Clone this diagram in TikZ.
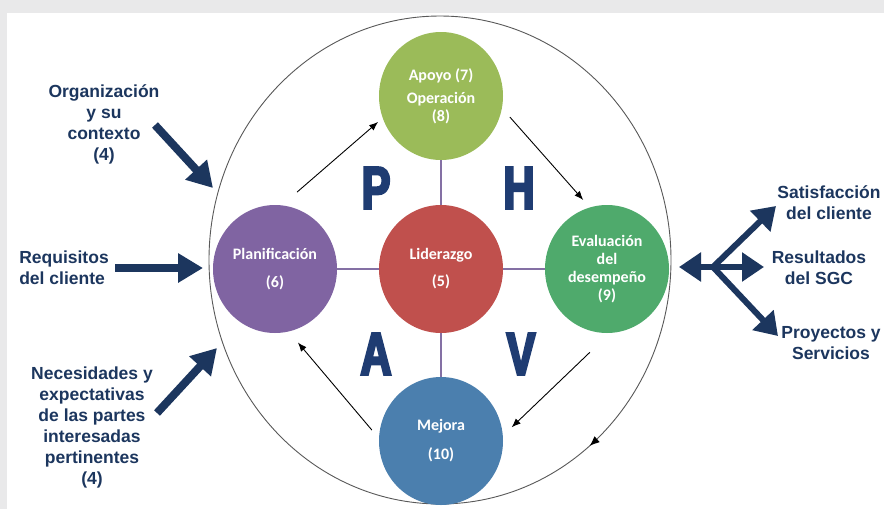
\documentclass[tikz,border=0pt]{standalone}
\usepackage{fontspec}
\setmainfont{Liberation Sans}
\newfontfamily\circfont{Carlito}
\newfontfamily\phavfont[FakeStretch=0.72,FakeBold=4]{Liberation Sans Bold}
\usepackage{xcolor}
\usepackage{tikz}
\usetikzlibrary{shapes,arrows,positioning,calc,decorations.markings,arrows.meta}

\definecolor{navy}{HTML}{1C365E}
\definecolor{phav}{HTML}{1F3C72}
\definecolor{apoyocol}{HTML}{9BBB59}
\definecolor{lidercol}{HTML}{C0504D}
\definecolor{plancol}{HTML}{8064A2}
\definecolor{evalcol}{HTML}{4FAA6C}
\definecolor{mejoracol}{HTML}{4B7FAE}
\definecolor{crosscol}{HTML}{8470A4}
\definecolor{bggray}{HTML}{E9E9EA}

\tikzset{
    stage/.style={ellipse, minimum width=124pt, minimum height=128pt, inner sep=0pt,
        text=white, align=center, font=\circfont\bfseries\fontsize{16}{18}\selectfont},
    sidetext/.style={text=navy, align=center, inner sep=0pt,
        font=\bfseries\fontsize{17.5}{21}\selectfont},
    bigarrow/.style={draw=navy, line width=8pt, -{Triangle[length=25pt,width=28pt]}},
    forkarrow/.style={draw=navy, line width=6pt, -{Triangle[length=22pt,width=28pt]}},
    cyclearrow/.style={black, line width=0.9pt, -{Latex[length=9pt,width=7pt]}},
    cross/.style={draw=crosscol, line width=2.5pt},
    phavletter/.style={text=phav, inner sep=0pt, font=\phavfont\fontsize{60}{60}\selectfont}
}

\begin{document}
\begin{tikzpicture}[x=1pt, y=-1pt]
    % Frame
    \useasboundingbox (0,0) rectangle (884,509);
    \fill[bggray] (0,0) rectangle (884,509);
    \fill[white] (7,13) rectangle (884,509);

    % Outer ring
    \draw[gray!70!black, line width=0.9pt, postaction={decorate},
        decoration={markings, mark=at position 0.14 with {\arrow[black]{Latex[length=10pt,width=8pt]}}}]
        (440,260) ellipse [x radius=231, y radius=244];

    % Stages
    \node[stage, fill=apoyocol] (apoyo) at (441,96) {Apoyo (7)\\[5pt]Operación\\(8)};
    \node[stage, fill=lidercol] (lider) at (441,269) {Liderazgo\\[9pt](5)};
    \node[stage, fill=plancol] (plan) at (275,269) {Planificación\\[10pt](6)};
    \node[stage, fill=evalcol] (eval) at (607,269) {Evaluación\\del\\desempeño\\(9)};
    \node[stage, fill=mejoracol] (mejora) at (441,441) {Mejora\\[11pt](10)};

    % Cross
    \draw[cross] (apoyo) -- (lider);
    \draw[cross] (lider) -- (mejora);
    \draw[cross] (plan) -- (lider);
    \draw[cross] (lider) -- (eval);

    % PHVA
    \node[phavletter] (P) at (376,188) {P};
    \node[phavletter] (H) at (519,188) {H};
    \node[phavletter] (A) at (376,354) {A};
    \node[phavletter] (V) at (521,354) {V};

    % Cycle
    \draw[cyclearrow] ($(plan.center)+(-74:80)$) -- ($(apoyo.center)+(157.6:68)$);
    \draw[cyclearrow] ($(apoyo.center)+(17:72)$) -- ($(eval.center)+(-109:73)$);
    \draw[cyclearrow] ($(eval.center)+(101.6:85)$) -- ($(mejora.center)+(-11:72)$);
    \draw[cyclearrow] ($(mejora.center)+(189:70)$) -- ($(plan.center)+(72.7:77)$);

    % Inputs
    \node[sidetext] (org) at (104,124) {Organización\\y su\\contexto\\(4)};
    \node[sidetext, align=left] (req) at (64,268) {Requisitos\\del cliente};
    \node[sidetext] (nec) at (92,427) {Necesidades y\\expectativas\\de las partes\\interesadas\\pertinentes\\(4)};
    \coordinate (orgtail) at (155,125);
    \coordinate (orgtip) at (213,188);
    \coordinate (reqtail) at (115,268);
    \coordinate (reqtip) at (203,268);
    \coordinate (nectail) at (157,413);
    \coordinate (nectip) at (217,348);
    \draw[bigarrow] (orgtail) -- (orgtip);
    \draw[bigarrow] (reqtail) -- (reqtip);
    \draw[bigarrow] (nectail) -- (nectip);

    % Outputs
    \node[sidetext] (sat) at (829,203) {Satisfacción\\del cliente};
    \node[sidetext] (res) at (819,268) {Resultados\\del SGC};
    \node[sidetext] (pro) at (831,343) {Proyectos y\\Servicios};
    \coordinate (fork) at (713,267);
    \coordinate (evaltip) at (679,267);
    \coordinate (sattip) at (776,206);
    \coordinate (restip) at (764,267);
    \coordinate (protip) at (778,336);
    \draw[forkarrow] (fork) -- (evaltip);
    \draw[forkarrow] (fork) -- (sattip);
    \draw[forkarrow] (fork) -- (restip);
    \draw[forkarrow] (fork) -- (protip);

\end{tikzpicture}
\end{document}
